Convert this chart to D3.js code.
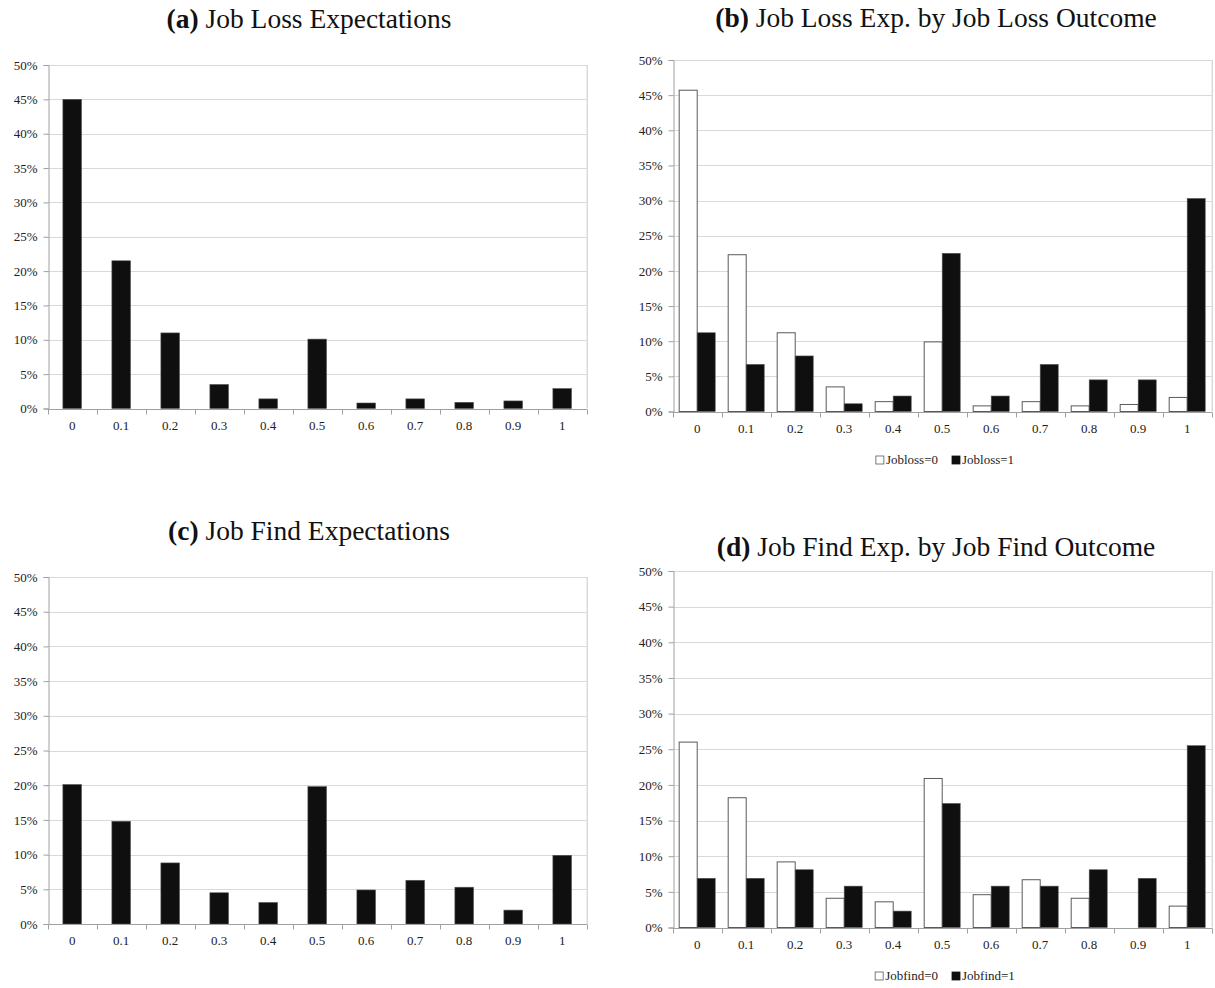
<!DOCTYPE html>
<html>
<head>
<meta charset="utf-8">
<script src="https://cdn.jsdelivr.net/npm/d3@7"></script>
<style>
  html, body { margin: 0; padding: 0; background: #fff; }
  svg { display: block; font-family: "Liberation Serif", "Times New Roman", serif; }
  svg text { font-family: "Liberation Serif", "Times New Roman", serif; }
</style>
</head>
<body>
<svg id="chart" width="1215" height="988"></svg>
<script>
// ---------- Data ----------
const categories = ["0", "0.1", "0.2", "0.3", "0.4", "0.5", "0.6", "0.7", "0.8", "0.9", "1"];
const yTicks = [0, 0.05, 0.10, 0.15, 0.20, 0.25, 0.30, 0.35, 0.40, 0.45, 0.50];

// (a) Job Loss Expectations (%)
const jobLossExp = [45.0, 21.5, 11.0, 3.5, 1.4, 10.1, 0.8, 1.4, 0.9, 1.1, 2.9];
// (b) Job Loss Exp. by Job Loss Outcome (%)
const jobloss0 = [45.7, 22.3, 11.2, 3.5, 1.4, 9.9, 0.8, 1.4, 0.8, 1.0, 2.0];
const jobloss1 = [11.2, 6.7, 7.9, 1.1, 2.2, 22.5, 2.2, 6.7, 4.5, 4.5, 30.3];
// (c) Job Find Expectations (%)
const jobFindExp = [20.1, 14.8, 8.8, 4.5, 3.1, 19.8, 4.9, 6.3, 5.3, 2.0, 9.9];
// (d) Job Find Exp. by Job Find Outcome (%)
const jobfind0 = [26.0, 18.2, 9.2, 4.1, 3.6, 20.9, 4.6, 6.7, 4.1, 0.0, 3.0];
const jobfind1 = [6.9, 6.9, 8.1, 5.8, 2.3, 17.4, 5.8, 5.8, 8.1, 6.9, 25.5];

const seriesNamesB = ["Jobloss=0", "Jobloss=1"];
const seriesNamesD = ["Jobfind=0", "Jobfind=1"];

// ---------- Drawing ----------
const svg = d3.select("#chart");
const FONT = '"Liberation Serif", "Times New Roman", serif';
const GRID = "#d9d9d9";
const AXIS = "#a0a0a0";
const DARK = "#0f0f0f";
const OUTLINE = "#5a5a5a";

function drawPanel(cfg) {
  const g = svg.append("g").attr("font-family", FONT);
  const x = d3.scaleBand().domain(categories).range([cfg.left, cfg.right]).paddingInner(0).paddingOuter(0);
  const y = d3.scaleLinear().domain([0, 0.5]).range([cfg.bottom, cfg.top]);

  // Title
  const t = g.append("text")
    .attr("x", cfg.titleX).attr("y", cfg.titleY)
    .attr("text-anchor", "middle")
    .attr("font-size", 27.5).attr("fill", "#111");
  t.append("tspan").attr("font-weight", "bold").text(cfg.titleBold);
  t.append("tspan").text(cfg.titleRest);

  // Gridlines
  g.selectAll(".grid").data(yTicks.filter(d => d > 0)).join("line")
    .attr("x1", cfg.left).attr("x2", cfg.right)
    .attr("y1", d => Math.round(y(d)) + 0.5).attr("y2", d => Math.round(y(d)) + 0.5)
    .attr("stroke", GRID).attr("stroke-width", 1);

  // right border
  g.append("line")
    .attr("x1", cfg.right + 0.5).attr("x2", cfg.right + 0.5)
    .attr("y1", y(0.5)).attr("y2", y(0))
    .attr("stroke", "#c8c8c8");

  // Y axis
  const yAxis = d3.axisLeft(y).tickValues(yTicks).tickFormat(d3.format(".0%")).tickSize(5).tickPadding(cfg.yPad);
  const ya = g.append("g").attr("transform", `translate(${Math.round(cfg.left) + 0.5},0)`).call(yAxis)
    .attr("font-family", FONT);
  ya.select(".domain").attr("stroke", AXIS);
  ya.selectAll(".tick line").attr("stroke", AXIS);
  ya.selectAll(".tick text").attr("font-family", FONT).attr("font-size", 13).attr("fill", "#222");

  // Bars
  if (cfg.series.length === 1) {
    const bw = x.bandwidth() * 0.38;
    g.selectAll(".bar").data(categories).join("rect")
      .attr("x", c => x(c) + (x.bandwidth() - bw) / 2)
      .attr("y", (c, i) => y(cfg.series[0][i] / 100))
      .attr("width", bw)
      .attr("height", (c, i) => y(0) - y(cfg.series[0][i] / 100))
      .attr("fill", DARK).attr("stroke", "#555").attr("stroke-width", 0.6);
  } else {
    const sub = d3.scaleBand().domain([0, 1]).range([0, x.bandwidth()]).paddingInner(0).paddingOuter(0.36);
    cfg.series.forEach((vals, si) => {
      g.selectAll(".bar" + si).data(categories).join("rect")
        .attr("x", c => x(c) + sub(si))
        .attr("y", (c, i) => y(vals[i] / 100))
        .attr("width", sub.bandwidth())
        .attr("height", (c, i) => Math.max(0, y(0) - y(vals[i] / 100)))
        .attr("fill", si === 0 ? "#fff" : DARK)
        .attr("stroke", si === 0 ? OUTLINE : "#555")
        .attr("stroke-width", si === 0 ? 1 : 0.6)
        .attr("display", (c, i) => vals[i] > 0 ? null : "none");
    });
  }

  // X axis
  const by = Math.round(y(0)) + 0.5;
  g.append("line").attr("x1", cfg.left).attr("x2", cfg.right + 0.5).attr("y1", by).attr("y2", by).attr("stroke", AXIS);
  const bounds = categories.map(c => x(c)).concat([cfg.right]);
  g.selectAll(".xtick").data(bounds).join("line")
    .attr("x1", d => Math.round(d) + 0.5).attr("x2", d => Math.round(d) + 0.5)
    .attr("y1", by).attr("y2", by + 5).attr("stroke", AXIS);
  g.selectAll(".xlab").data(categories).join("text")
    .attr("x", c => x(c) + x.bandwidth() / 2)
    .attr("y", y(0) + 21)
    .attr("text-anchor", "middle")
    .attr("font-size", 13).attr("fill", "#222")
    .text(c => c);

  // Legend
  if (cfg.legend) {
    const lg = g.append("g");
    let cx = 0;
    cfg.legend.forEach((name, i) => {
      const it = lg.append("g");
      it.append("rect").attr("x", 0).attr("y", -8).attr("width", 8).attr("height", 8)
        .attr("fill", i === 0 ? "#fff" : DARK).attr("stroke", i === 0 ? OUTLINE : DARK).attr("stroke-width", 0.8);
      const tx = it.append("text").attr("x", 10).attr("y", 0).attr("font-size", 13).attr("fill", "#222").text(name);
      const w = 10 + tx.node().getComputedTextLength();
      it.attr("transform", `translate(${cx},0)`);
      cx += w + 14;
    });
    const total = cx - 14;
    lg.attr("transform", `translate(${cfg.legendX - total / 2},${cfg.legendY})`);
  }
}

drawPanel({ left: 47.7, right: 586.7, top: 65, bottom: 408.5, yPad: 6,
  titleX: 309, titleY: 28, titleBold: "(a)", titleRest: " Job Loss Expectations",
  series: [jobLossExp] });
drawPanel({ left: 672.7, right: 1211.7, top: 60, bottom: 411.5, yPad: 6,
  titleX: 936, titleY: 27, titleBold: "(b)", titleRest: " Job Loss Exp. by Job Loss Outcome",
  series: [jobloss0, jobloss1], legend: seriesNamesB, legendX: 945, legendY: 464 });
drawPanel({ left: 47.7, right: 586.7, top: 577, bottom: 924, yPad: 6,
  titleX: 309, titleY: 540, titleBold: "(c)", titleRest: " Job Find Expectations",
  series: [jobFindExp] });
drawPanel({ left: 672.7, right: 1211.7, top: 571, bottom: 927.5, yPad: 6,
  titleX: 936, titleY: 556, titleBold: "(d)", titleRest: " Job Find Exp. by Job Find Outcome",
  series: [jobfind0, jobfind1], legend: seriesNamesD, legendX: 945, legendY: 980 });
</script>
</body>
</html>
